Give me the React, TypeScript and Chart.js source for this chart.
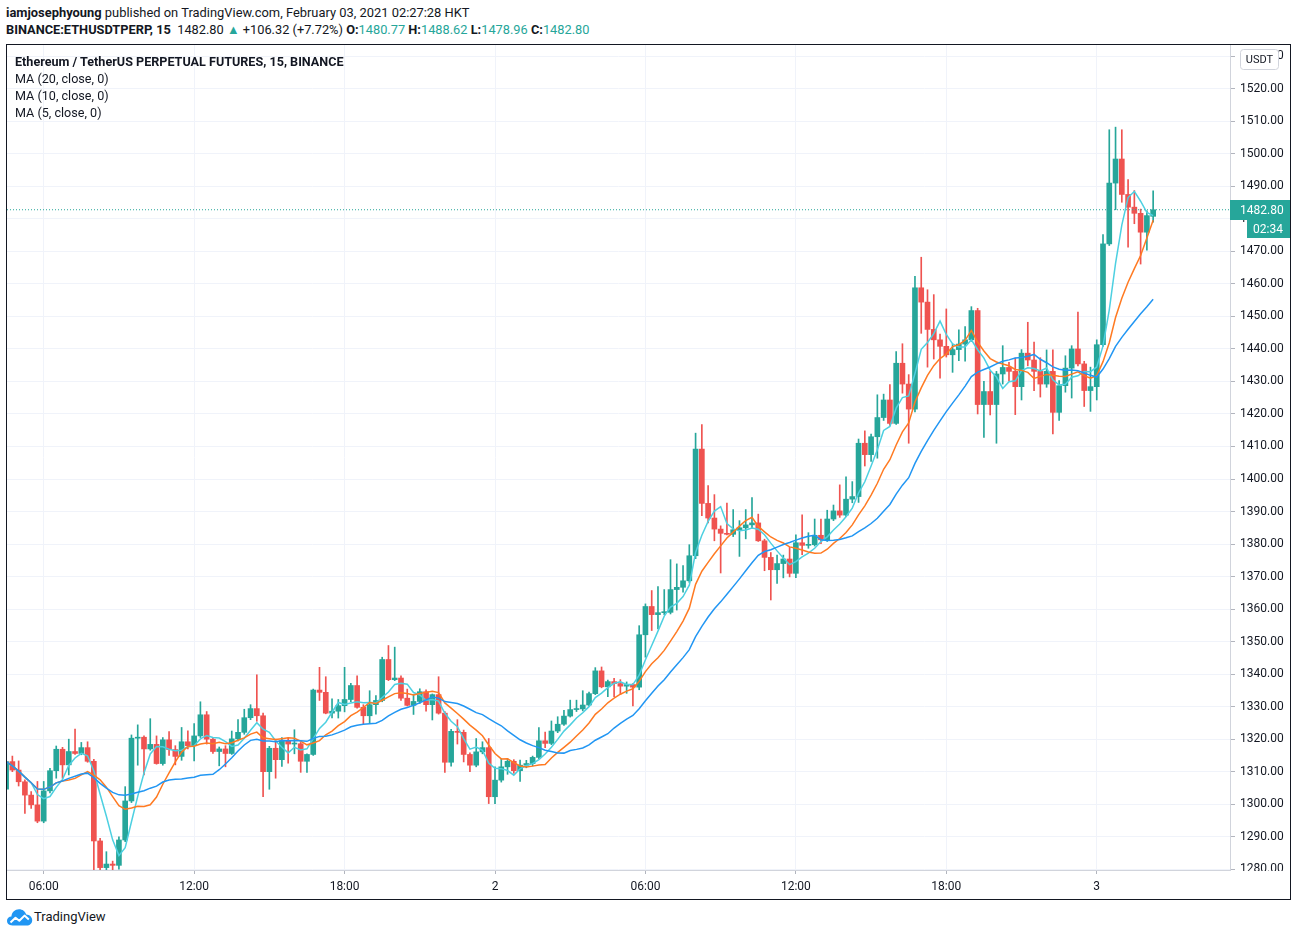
import React, { useEffect, useRef } from "react";
import { Chart, registerables } from "chart.js";

Chart.register(...registerables);

// ---------- DATA (15-minute candles, Feb 1 04:30 → Feb 3 02:15 HKT) ----------
const opens: number[] = [
  1304.6, 1313.1, 1310.5, 1306.9, 1302.8, 1299.8, 1294.8, 1304.1, 1310.3, 1316.9,
  1312.1, 1316.2, 1315.6, 1317.4, 1313.2, 1288.7, 1280.5, 1281.6, 1281.2, 1289,
  1301, 1320.3, 1320.6, 1317, 1318.4, 1312.5, 1319.8, 1316.8, 1314.7, 1319.2,
  1318, 1321, 1327.5, 1320, 1316.2, 1317, 1315.6, 1320.1, 1322.1, 1326.6,
  1329.4, 1327.2, 1310, 1317.2, 1313.7, 1319.5, 1318.5, 1318.6, 1313.2, 1315.3,
  1335.1, 1334.4, 1328, 1328.6, 1330.3, 1332.2, 1336.5, 1329.8, 1327.2, 1330.6,
  1331.9, 1344.5, 1338.3, 1338.8, 1332.6, 1330.4, 1331.6, 1334.6, 1330.6, 1333.7,
  1328, 1312.9, 1322.4, 1322.1, 1315.3, 1312, 1316.1, 1317.4, 1302.3, 1307.4,
  1311.5, 1313.2, 1310.3, 1312, 1312.5, 1314.4, 1319.5, 1318.7, 1322.5, 1324.6,
  1327.1, 1329.1, 1329.3, 1330.5, 1334, 1341, 1336.1, 1337.7, 1337.1, 1336.3,
  1336.8, 1336, 1352.1, 1360.8, 1358.3, 1358.9, 1359, 1366, 1366.7, 1368.7,
  1376.4, 1409.2, 1392.5, 1388, 1384.6, 1383.3, 1383, 1384.4, 1385, 1385.9,
  1386.5, 1381, 1375.9, 1372.1, 1374, 1375.4, 1371, 1380.4, 1379.6, 1379.8,
  1382.7, 1381.3, 1387.7, 1390.2, 1388.9, 1393.8, 1394.6, 1411, 1407.5, 1413,
  1418.9, 1424.3, 1417.1, 1435.6, 1429.2, 1421.5, 1458.8, 1454.4, 1446, 1442.8,
  1440.8, 1438.2, 1439.8, 1441.5, 1442.8, 1451.8, 1422.9, 1426.9, 1422.9, 1432.3,
  1434.3, 1433.1, 1428.4, 1438.7, 1436.6, 1433.1, 1429.2, 1433.1, 1420.5, 1428.7,
  1434.1, 1440, 1435.4, 1427.2, 1428.4, 1441.3, 1472.3, 1491, 1498.4, 1487.5,
  1483.6, 1481.7, 1475.9, 1480.77,
];

const highs: number[] = [
  1314, 1314.8, 1313.3, 1307.5, 1303.9, 1307, 1307, 1311, 1317.9, 1317.5,
  1320, 1323.1, 1319, 1319.2, 1313.8, 1289.5, 1285.4, 1282.5, 1290, 1305.4,
  1321.3, 1324.4, 1321, 1326.3, 1321, 1320.5, 1322.3, 1318, 1323.6, 1322.6,
  1324.8, 1331.5, 1328.5, 1320.5, 1317.6, 1318, 1322.5, 1326, 1329.2, 1330.6,
  1339.8, 1328, 1317.8, 1320, 1320.5, 1320.3, 1322.9, 1319, 1315.5, 1335.4,
  1342.1, 1339.2, 1332.4, 1332.2, 1342.1, 1337.2, 1339.5, 1330.6, 1334.9, 1333.4,
  1345.2, 1348.8, 1348.3, 1339.5, 1335.4, 1333.7, 1335.5, 1335.2, 1333.9, 1339.2,
  1328.5, 1323, 1326, 1322.8, 1315.8, 1320.2, 1319.2, 1320.2, 1311.5, 1314,
  1314, 1313.7, 1313.6, 1313.5, 1314.8, 1323.6, 1322.2, 1325.6, 1326.9, 1328.9,
  1332, 1332, 1334.9, 1334.5, 1342, 1342.2, 1338.2, 1338.7, 1338.3, 1337.6,
  1337.1, 1354.9, 1361.6, 1365.7, 1366.9, 1366, 1375.2, 1373.9, 1373.4, 1379.8,
  1414.1, 1416.7, 1398, 1395.2, 1385.6, 1392.6, 1390.6, 1387.2, 1390.6, 1394.3,
  1389.2, 1381.5, 1377.4, 1376.6, 1376.6, 1379, 1382.8, 1389, 1383.5, 1387.7,
  1387.7, 1390.4, 1392, 1398.2, 1400.7, 1399.2, 1412.3, 1414.8, 1413.8, 1425.9,
  1426.1, 1429, 1439.2, 1441.6, 1432.1, 1462.3, 1468.2, 1458.2, 1456.7, 1444.6,
  1452.3, 1441.5, 1445.9, 1446.9, 1453, 1452.5, 1430, 1433.1, 1433.1, 1441,
  1435.9, 1437.2, 1439.8, 1448.2, 1442.1, 1437.3, 1439.7, 1439.7, 1430.3, 1437.9,
  1441, 1451.3, 1436.2, 1434.4, 1442.8, 1475.2, 1507.4, 1508.2, 1507.4, 1492.1,
  1488.7, 1483, 1482.5, 1488.62,
];

const lows: number[] = [
  1303, 1310, 1305.6, 1297.2, 1298.7, 1294.3, 1294.3, 1303.5, 1308, 1308,
  1309, 1315.3, 1315.2, 1312.9, 1279, 1279, 1279.5, 1279, 1280, 1288.5,
  1300.5, 1312, 1309, 1316.6, 1312.3, 1312, 1315, 1312.1, 1313.5, 1317,
  1313.3, 1320.5, 1318.5, 1315.6, 1311.8, 1311.5, 1315.3, 1319.5, 1321.5, 1326,
  1325.5, 1302.3, 1304.6, 1308, 1311.6, 1312.6, 1315.5, 1309.8, 1309.8, 1315,
  1331.9, 1327.8, 1326.5, 1326.5, 1328.4, 1331.5, 1329.5, 1324.7, 1324.9, 1327.7,
  1331.5, 1338, 1338, 1331.9, 1330.2, 1327.6, 1331, 1328.6, 1325.9, 1327.7,
  1309.8, 1311.7, 1318.5, 1313, 1310, 1311.5, 1315.5, 1300.2, 1300.2, 1306.8,
  1309.2, 1309.5, 1307, 1311.2, 1311.8, 1314, 1317.4, 1318.3, 1322, 1324.2,
  1326.8, 1328.5, 1328.7, 1330.2, 1333.7, 1335.8, 1333.1, 1333.1, 1333.7, 1334.1,
  1330.2, 1335.2, 1345.2, 1353.4, 1353.9, 1358.3, 1358.5, 1359.7, 1365.2, 1368.2,
  1375.5, 1388.7, 1386.5, 1381, 1371.1, 1382.8, 1382.3, 1376.2, 1381.6, 1384.8,
  1380.8, 1371.8, 1362.8, 1367.9, 1369.6, 1369.9, 1369.7, 1376.7, 1378.7, 1379.4,
  1380.1, 1380.8, 1387.2, 1388.2, 1388.4, 1392.7, 1392.8, 1404, 1405.4, 1406.4,
  1418, 1416.5, 1416.8, 1426.4, 1411, 1420.6, 1444.8, 1434.4, 1436.9, 1431,
  1437.5, 1432.8, 1436.4, 1436.2, 1442.3, 1420, 1412.8, 1419.7, 1411, 1429.2,
  1430.2, 1419.8, 1424.3, 1434.8, 1427.2, 1425.2, 1428.2, 1413.9, 1418, 1426.7,
  1424.9, 1434.8, 1422.3, 1420.8, 1424.3, 1440.8, 1471.8, 1482.8, 1485.1, 1471.3,
  1478.5, 1466.1, 1470.4, 1478.96,
];

const closes: number[] = [
  1313.1, 1310.5, 1306.9, 1302.8, 1299.8, 1294.8, 1304.1, 1310.3, 1316.9, 1312.1,
  1316.2, 1315.6, 1317.4, 1313.2, 1288.7, 1280.5, 1281.6, 1281.2, 1289, 1301,
  1320.3, 1320.6, 1317, 1318.4, 1312.5, 1319.8, 1316.8, 1314.7, 1319.2, 1318,
  1321, 1327.5, 1320, 1316.2, 1317, 1315.6, 1320.1, 1322.1, 1326.6, 1329.4,
  1327.2, 1310, 1317.2, 1313.7, 1319.5, 1318.5, 1318.6, 1313.2, 1315.3, 1335.1,
  1334.4, 1328, 1328.6, 1330.3, 1332.2, 1336.5, 1329.8, 1327.2, 1330.6, 1331.9,
  1344.5, 1338.3, 1338.8, 1332.6, 1330.4, 1331.6, 1334.6, 1330.6, 1333.7, 1328,
  1312.9, 1322.4, 1322.1, 1315.3, 1312, 1316.1, 1317.4, 1302.3, 1307.4, 1311.5,
  1313.2, 1310.3, 1312, 1312.5, 1314.4, 1319.5, 1318.7, 1322.5, 1324.6, 1327.1,
  1329.1, 1329.3, 1330.5, 1334, 1341, 1336.1, 1337.7, 1337.1, 1336.3, 1336.8,
  1336, 1352.1, 1360.8, 1358.3, 1358.9, 1359, 1366, 1366.7, 1368.7, 1376.4,
  1409.2, 1392.5, 1388, 1384.6, 1383.3, 1383, 1384.4, 1385, 1385.9, 1386.5,
  1381, 1375.9, 1372.1, 1374, 1375.4, 1371, 1380.4, 1379.6, 1379.8, 1382.7,
  1381.3, 1387.7, 1390.2, 1388.9, 1393.8, 1394.6, 1411, 1407.5, 1413, 1418.9,
  1424.3, 1417.1, 1435.6, 1429.2, 1421.5, 1458.8, 1454.4, 1446, 1442.8, 1440.8,
  1438.2, 1439.8, 1441.5, 1442.8, 1451.8, 1422.9, 1426.9, 1422.9, 1432.3, 1434.3,
  1433.1, 1428.4, 1438.7, 1436.6, 1433.1, 1429.2, 1433.1, 1420.5, 1428.7, 1434.1,
  1440, 1435.4, 1427.2, 1428.4, 1441.3, 1472.3, 1491, 1498.4, 1487.5, 1483.6,
  1481.7, 1475.9, 1481, 1482.8,
];

// x-axis: candle index of each labelled time, and its label
const timeTickIndex: number[] = [6, 30, 54, 78, 102, 126, 150, 174];
const timeTickLabels: string[] = ["06:00", "12:00", "18:00", "2", "06:00", "12:00", "18:00", "3"];

// y-axis price ticks
const priceTicks: number[] = [
  1280, 1290, 1300, 1310, 1320, 1330, 1340, 1350, 1360, 1370, 1380, 1390, 1400,
  1410, 1420, 1430, 1440, 1450, 1460, 1470, 1480, 1490, 1500, 1510, 1520, 1530,
];

const maPeriods: number[] = [20, 10, 5];
const legendTitle = "Ethereum / TetherUS PERPETUAL FUTURES, 15, BINANCE";
const countdownText = "02:34";

// ---------- STYLE ----------
const UP = "#26a69a";
const DOWN = "#ef5350";
const MA_COLORS = ["#2196f3", "#ff7a22", "#4dd0e1"];
const TEXT = "#131722";
const FONT = "Roboto, 'Noto Sans', sans-serif";

const X_MIN = 0.144;
const X_MAX = 195.26;
const Y_MIN = 1279.77;
const Y_MAX = 1533.46;

function movingAverage(values: number[], period: number): number[] {
  return values.map((_, i) => {
    const start = Math.max(0, i - period + 1);
    const win = values.slice(start, i + 1);
    return win.reduce((a, b) => a + b, 0) / win.length;
  });
}

const overlayPlugin = {
  id: "tvOverlay",
  afterDraw(chart: any) {
    const { ctx, chartArea } = chart;
    const y = chart.scales.y;
    const last = closes[closes.length - 1];
    const py = y.getPixelForValue(last);
    const W = chart.width;
    const H = chart.height;
    ctx.save();
    // hide the lower half of labels that spill into the time-axis corner
    ctx.fillStyle = "#ffffff";
    ctx.fillRect(chartArea.right + 1, chartArea.bottom + 1, W - chartArea.right, H - chartArea.bottom);

    // last price label
    ctx.fillStyle = UP;
    ctx.fillRect(chartArea.right, Math.round(py) - 10, W - chartArea.right, 20);
    ctx.fillRect(chartArea.right + 17, Math.round(py) + 10, W - chartArea.right - 17, 18);
    ctx.fillStyle = "#ffffff";
    ctx.font = `12px ${FONT}`;
    ctx.textBaseline = "middle";
    ctx.textAlign = "left";
    ctx.fillText(last.toFixed(2), chartArea.right + 10, Math.round(py) + 0.5);
    ctx.fillText(countdownText, chartArea.right + 23, Math.round(py) + 19.5);

    // USDT currency box
    const bx = chartArea.right + 10.5;
    const by = 4.5;
    const bw = 38;
    const bh = 20;
    ctx.beginPath();
    const r = 3;
    ctx.moveTo(bx + r, by);
    ctx.lineTo(bx + bw - r, by);
    ctx.quadraticCurveTo(bx + bw, by, bx + bw, by + r);
    ctx.lineTo(bx + bw, by + bh - r);
    ctx.quadraticCurveTo(bx + bw, by + bh, bx + bw - r, by + bh);
    ctx.lineTo(bx + r, by + bh);
    ctx.quadraticCurveTo(bx, by + bh, bx, by + bh - r);
    ctx.lineTo(bx, by + r);
    ctx.quadraticCurveTo(bx, by, bx + r, by);
    ctx.closePath();
    ctx.fillStyle = "#ffffff";
    ctx.fill();
    ctx.strokeStyle = "#d1d4dc";
    ctx.lineWidth = 1;
    ctx.stroke();
    ctx.fillStyle = TEXT;
    ctx.font = `11px ${FONT}`;
    ctx.textAlign = "center";
    ctx.fillText("USDT", bx + bw / 2, by + bh / 2 + 0.5);
    ctx.restore();
  },
};

function CandleChart() {
  const ref = useRef<HTMLCanvasElement | null>(null);
  useEffect(() => {
    if (!ref.current) return;
    const bodies = closes.map((c, i) => ({ x: i, y: [opens[i], c] }));
    const wicks = closes.map((c, i) => ({ x: i, y: [lows[i], highs[i]] }));
    const colors = closes.map((c, i) => (c >= opens[i] ? UP : DOWN));
    const last = closes[closes.length - 1];

    const maSets = maPeriods.map((p, k) => {
      const ma = movingAverage(closes, p);
      return {
        type: "line" as const,
        label: `MA (${p}, close, 0)`,
        data: ma.map((v, i) => ({ x: i, y: v })),
        borderColor: MA_COLORS[k],
        borderWidth: 1.5,
        pointRadius: 0,
        tension: 0,
        order: 0,
      };
    });

    const chart = new Chart(ref.current, {
      type: "bar",
      data: {
        datasets: [
          ...maSets,
          {
            type: "line" as const,
            label: "last",
            data: [
              { x: X_MIN, y: last },
              { x: X_MAX, y: last },
            ],
            borderColor: UP,
            borderWidth: 1,
            borderDash: [1, 2],
            pointRadius: 0,
            order: 1,
          },
          {
            type: "bar" as const,
            label: "body",
            data: bodies as any,
            backgroundColor: colors,
            barThickness: 5,
            minBarLength: 1,
            grouped: false,
            order: 2,
          },
          {
            type: "bar" as const,
            label: "wick",
            data: wicks as any,
            backgroundColor: colors,
            barThickness: 1,
            grouped: false,
            order: 3,
          },
        ] as any,
      },
      options: {
        animation: false,
        responsive: true,
        maintainAspectRatio: false,
        layout: { padding: 0 },
        plugins: { legend: { display: false }, tooltip: { enabled: false } },
        events: [],
        scales: {
          x: {
            type: "linear",
            min: X_MIN,
            max: X_MAX,
            offset: false,
            afterBuildTicks: (scale: any) => {
              scale.ticks = timeTickIndex.map((v) => ({ value: v }));
            },
            afterFit: (scale: any) => {
              scale.height = 29;
              scale.paddingLeft = 0;
              scale.paddingRight = 0;
            },
            grid: {
              offset: false,
              color: "#f0f3fa",
              tickColor: "#b2b5be",
              tickLength: 4,
              lineWidth: 1,
            },
            border: { display: true, color: "#d1d4dc" },
            ticks: {
              autoSkip: false,
              maxRotation: 0,
              padding: 6,
              color: TEXT,
              font: { family: FONT, size: 12 },
              callback: (_v: any, i: number) => timeTickLabels[i],
            },
          },
          y: {
            type: "linear",
            position: "right",
            min: Y_MIN,
            max: Y_MAX,
            afterBuildTicks: (scale: any) => {
              scale.ticks = priceTicks.map((v) => ({ value: v }));
            },
            afterFit: (scale: any) => {
              scale.width = 60;
              scale.paddingTop = 0;
              scale.paddingBottom = 0;
            },
            grid: {
              color: "#f0f3fa",
              tickColor: "#b2b5be",
              tickLength: 5,
            },
            border: { display: true, color: "#d1d4dc" },
            ticks: {
              padding: 5,
              color: TEXT,
              font: { family: FONT, size: 12 },
              callback: (v: any) => Number(v).toFixed(2),
            },
          },
        },
      } as any,
      plugins: [overlayPlugin],
    });
    return () => chart.destroy();
  }, []);

  return (
    <div style={{ position: "relative", width: 1283, height: 854 }}>
      <canvas ref={ref} />
    </div>
  );
}

function Logo() {
  return (
    <svg width="27" height="18" viewBox="0 0 27 18">
      <path
        d="M6.5 17.5 C2.5 17.5 1 15 1 12.8 C1 10.2 3 8.4 5.4 8.4 C5.8 4.2 9 1.2 13 1.2 C16.6 1.2 19.3 3.4 20.2 6.6 C23.8 6.8 26.2 9.4 26.2 12.2 C26.2 15.3 23.8 17.5 20.8 17.5 Z"
        fill="#2196f3"
      />
      <polyline points="4.5,14.5 9.5,9.8 13.3,12.8 18.5,7.6 22.8,11.4" stroke="#ffffff" strokeWidth="2" fill="none" strokeLinejoin="round" />
    </svg>
  );
}

export default function App() {
  const teal = { color: UP };
  return (
    <div
      style={{
        position: "absolute",
        left: 0,
        top: 0,
        width: 1297,
        height: 936,
        background: "#ffffff",
        fontFamily: FONT,
        color: TEXT,
        overflow: "hidden",
      }}
    >
      <div style={{ position: "absolute", left: 6, top: 5, fontSize: 12.9, lineHeight: "16px", whiteSpace: "nowrap" }}>
        <b>iamjosephyoung</b> published on TradingView.com, February 03, 2021 02:27:28 HKT
      </div>
      <div style={{ position: "absolute", left: 6, top: 22, fontSize: 12.8, lineHeight: "16px", whiteSpace: "nowrap" }}>
        <b>BINANCE:ETHUSDTPERP, 15</b>&nbsp; 1482.80 <span style={teal}>▲</span> +106.32 (+7.72%){" "}
        <b>O:</b>
        <span style={teal}>1480.77</span> <b>H:</b>
        <span style={teal}>1488.62</span> <b>L:</b>
        <span style={teal}>1478.96</span> <b>C:</b>
        <span style={teal}>1482.80</span>
      </div>

      <div
        style={{
          position: "absolute",
          left: 6,
          top: 44,
          width: 1285,
          height: 856,
          boxSizing: "border-box",
          border: "1px solid #131722",
        }}
      >
        <CandleChart />
        <div
          style={{
            position: "absolute",
            left: 8,
            top: 8,
            fontSize: 12.6,
            lineHeight: "17px",
            whiteSpace: "nowrap",
            pointerEvents: "none",
          }}
        >
          <div style={{ fontWeight: 700 }}>{legendTitle}</div>
          {maPeriods.map((p) => (
            <div key={p}>{`MA (${p}, close, 0)`}</div>
          ))}
        </div>
      </div>

      <div style={{ position: "absolute", left: 6, top: 908, display: "flex", alignItems: "center" }}>
        <Logo />
        <span style={{ marginLeft: 1, fontSize: 13, lineHeight: "18px" }}>TradingView</span>
      </div>
    </div>
  );
}
